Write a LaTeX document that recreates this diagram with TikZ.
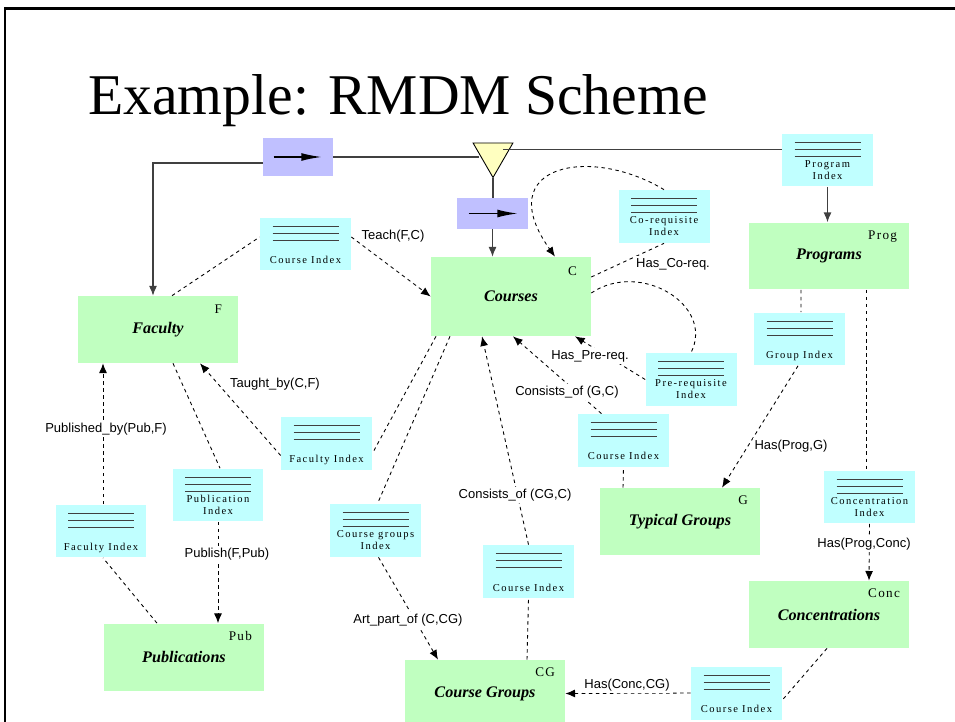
\documentclass[tikz,border=0pt]{standalone}
\usepackage{fontspec}
\setmainfont{Liberation Serif}
\setsansfont{Liberation Sans}
\newfontfamily\idxfont[LetterSpace=14]{Liberation Serif}
\newfontfamily\codefont[LetterSpace=10]{Liberation Serif}
\usetikzlibrary{arrows.meta, shapes.geometric}
\definecolor{entgreen}{RGB}{192,255,192}
\definecolor{idxcyan}{RGB}{192,255,255}
\definecolor{ptrblue}{RGB}{192,192,255}
\definecolor{triyellow}{RGB}{255,255,192}
% index box: name, position, text
\newcommand{\idxbox}[3]{%
    \node[index] (#1) at (#2) {};
    \foreach \dy in {9,16,23}{
        \draw[idxline] ([shift={(-33,\dy)}]#1.north) -- ([shift={(33,\dy)}]#1.north);
    }
    \node[idxtext, anchor=south] (#1-txt) at ([shift={(0,-7)}]#1.south) {#3};
}

\begin{document}
\begin{tikzpicture}[
    x=0.02cm, y=-0.02cm,
    % GLOBAL CFG
    >={Latex[length=5.5pt,width=4.5pt]},
    % Styles
    title/.style={% For slide title
        font=\fontsize{32.8}{38}\selectfont,
        inner sep=0pt,
    },
    entity/.style={% For relations (green boxes)
        rectangle,
        fill=entgreen,
        minimum width=3.2cm,
        minimum height=1.34cm,
        inner sep=0pt,
        font=\fontsize{9.2}{11}\selectfont\bfseries\itshape,
    },
    entcode/.style={% For short names of relations
        anchor=north east,
        inner sep=0pt,
        font=\codefont\fontsize{7.5}{9}\selectfont,
    },
    index/.style={% For index boxes
        rectangle,
        fill=idxcyan,
        minimum width=1.82cm,
        minimum height=1.06cm,
        inner sep=0pt,
    },
    idxtext/.style={
        inner sep=0pt,
        text depth=0pt,
        font=\idxfont\fontsize{6}{7}\selectfont,
    },
    idxline/.style={
        line width=0.6pt,
        draw=black!75,
    },
    ptrbox/.style={% For pointer boxes
        rectangle,
        fill=ptrblue,
        minimum width=1.4cm,
        minimum height=0.76cm,
        inner sep=0pt,
    },
    ptrarrow/.style={
        line width=1.1pt,
        -{Latex[length=12pt,width=4.5pt]},
    },
    splitter/.style={% For the yellow triangle
        regular polygon,
        regular polygon sides=3,
        shape border rotate=180,
        minimum size=0.92cm,
        inner sep=0pt,
        fill=triyellow,
        draw=black,
        line width=0.5pt,
    },
    relation/.style={% For connector labels
        font=\sffamily\fontsize{7.4}{9}\selectfont,
        fill=white,
        inner sep=1pt,
    },
    ArrowS/.style={% Solid connectors
        line width=0.6pt,
        draw=black!75,
    },
    ArrowD/.style={% Dashed connectors
        line width=0.5pt,
        dash pattern=on 2pt off 2pt,
    },
    every text node part/.style={
        align=center
    },
    ]
    \useasboundingbox (0,0) rectangle (955,722);

    % Frame and title
    \draw[line width=1.7pt] (5,722) -- (5,9) -- (955,9);
    \node[title, anchor=base west] (title) at (88,115) {Example: RMDM Scheme};

    % Draw relations
    \node[entity] (fac) at (158,329.5) {Faculty};
    \node[entity, minimum height=1.58cm] (crs) at (511,296.5) {Courses};
    \node[entity] (prog) at (829,256) {Programs};
    \node[entity] (typ) at (680,521.5) {Typical Groups};
    \node[entity] (con) at (829,614.5) {Concentrations};
    \node[entity] (pub) at (184,657) {Publications};
    \node[entity] (cg) at (485,693.5) {Course Groups};

    \node[entcode] (fac-c) at ([shift={(-16,9)}]fac.north east) {F};
    \node[entcode] (crs-c) at ([shift={(-14,10)}]crs.north east) {C};
    \node[entcode] (prog-c) at ([shift={(-12,8)}]prog.north east) {Prog};
    \node[entcode] (typ-c) at ([shift={(-12,8)}]typ.north east) {G};
    \node[entcode] (con-c) at ([shift={(-9,8)}]con.north east) {Conc};
    \node[entcode] (pub-c) at ([shift={(-12,8)}]pub.north east) {Pub};
    \node[entcode] (cg-c) at ([shift={(-10,8)}]cg.north east) {CG};

    % Draw indexes
    \idxbox{ci1}{305.5,244}{Course Index}
    \idxbox{pidx}{827.5,160}{Program\\Index}
    \idxbox{coidx}{664,216.5}{Co-requisite\\Index}
    \idxbox{fi1}{326.5,443.5}{Faculty Index}
    \idxbox{preidx}{691,379.5}{Pre-requisite\\Index}
    \idxbox{gidx}{799.5,339}{Group Index}
    \idxbox{ci2}{623.5,440.5}{Course Index}
    \idxbox{conidx}{869.5,497}{Concentration\\Index}
    \idxbox{pubidx}{218,495}{Publication\\Index}
    \idxbox{fi2}{101,531}{Faculty Index}
    \idxbox{cgidx}{375.5,530.5}{Course groups\\Index}
    \idxbox{ci3}{528.5,571.5}{Course Index}
    \idxbox{ci4}{736.5,693}{Course Index}

    % Draw pointers and splitter
    \node[ptrbox] (pb1) at (298,157) {};
    \node[ptrbox, minimum width=1.42cm, minimum height=0.62cm] (pb2) at (492.5,213.5) {};
    \draw[ptrarrow] ([shift={(11,0)}]pb1.west) -- ([shift={(-11,0)}]pb1.east);
    \draw[ptrarrow] ([shift={(12,0)}]pb2.west) -- ([shift={(-10,0)}]pb2.east);
    \node[splitter] (tri) at (493,154.5) {};

    % Solid connectors
    \draw[ArrowS] (pb1.east) -- (pb1.east -| tri.west);
    \draw[ArrowS] ([shift={(-4,-5)}]tri.east) -- ([shift={(0,-5)}]tri.east -| pidx.west);
    \draw[->,ArrowS] ([shift={(0,6)}]pb1.west) -| ([shift={(-5,0)}]fac.north);
    \draw[ArrowS] (tri.corner 1) -- (tri.corner 1 |- pb2.north);
    \draw[->,ArrowS] (pb2.south) -- (pb2.south |- crs.north);
    \draw[->,ArrowS] (pidx.south) -- (pidx.south |- prog.north);

    % Teach
    \draw[ArrowD] ([shift={(14,0)}]fac.north) -- ([shift={(0,-7)}]ci1.west);
    \draw[->,ArrowD] ([shift={(0,-7)}]ci1.east) -- (crs.west);

    % Co-requisite
    \draw[ArrowD] ([shift={(0,-19.5)}]crs.east) -- (coidx.south);
    \draw[->,ArrowD] (coidx.north) .. controls (590,145) and (490,165) .. ([shift={(44,0)}]crs.north);

    % Pre-requisite
    \draw[ArrowD] ([shift={(0,-3.5)}]crs.east) .. controls (640,260) and (715,305) .. (preidx.north);
    \draw[->,ArrowD] (preidx.west) -- ([shift={(64,0)}]crs.south);

    % Taught_by
    \draw[ArrowD] ([shift={(-75,0)}]crs.south) -- ([shift={(0,10)}]fi1.east);
    \draw[->,ArrowD] ([shift={(0,12)}]fi1.west) -- ([shift={(42,0)}]fac.south);

    % Art_part_of
    \draw[ArrowD] ([shift={(-61,0)}]crs.south) -- ([shift={(2,0)}]cgidx.north);
    \draw[->,ArrowD] ([shift={(3,0)}]cgidx.south) -- ([shift={(-47,0)}]cg.north);

    % Consists_of (CG,C)
    \draw[ArrowD] ([shift={(42,0)}]cg.north) -- (ci3.south);
    \draw[->,ArrowD] (ci3.north) -- ([shift={(-29,0)}]crs.south);

    % Consists_of (G,C)
    \draw[ArrowD] ([shift={(-57,0)}]typ.north) -- (ci2.south);
    \draw[->,ArrowD] ([shift={(-22,0)}]ci2.north) -- ([shift={(2,0)}]crs.south);

    % Has(Prog,G)
    \draw[ArrowD] ([shift={(-28,0)}]prog.south) -- ([shift={(1.5,0)}]gidx.north);
    \draw[->,ArrowD] ([shift={(-1.5,0)}]gidx.south) -- ([shift={(42,0)}]typ.north);

    % Has(Prog,Conc)
    \draw[ArrowD] ([shift={(37,0)}]prog.south) -- ([shift={(-3.5,0)}]conidx.north);
    \draw[->,ArrowD] (conidx.south) -- ([shift={(40,0)}]con.north);

    % Has(Conc,CG)
    \draw[ArrowD] ([shift={(-2,0)}]con.south) -- ([shift={(0,7)}]ci4.east);
    \draw[->,ArrowD] (ci4.west) -- (cg.east);

    % Publish
    \draw[ArrowD] ([shift={(15,0)}]fac.south) -- ([shift={(2,0)}]pubidx.north);
    \draw[->,ArrowD] (pubidx.south) -- ([shift={(34,0)}]pub.north);

    % Published_by
    \draw[ArrowD] ([shift={(-27,0)}]pub.north) -- ([shift={(2,0)}]fi2.south);
    \draw[->,ArrowD] ([shift={(2,0)}]fi2.north) -- ([shift={(-55,0)}]fac.south);

    % Labels
    \node[relation] (teach) at (393,236) {Teach(F,C)};
    \node[relation] (coreq) at (673,264) {Has\_Co-req.};
    \node[relation] (prereq) at (590,356) {Has\_Pre-req.};
    \node[relation] (taught) at (275,384) {Taught\_by(C,F)};
    \node[relation] (artpart) at (408,620) {Art\_part\_of (C,CG)};
    \node[relation] (cgc) at (515,495) {Consists\_of (CG,C)};
    \node[relation] (gc) at (567,392) {Consists\_of (G,C)};
    \node[relation] (hasg) at (791,446) {Has(Prog,G)};
    \node[relation] (hasconc) at (864,544) {Has(Prog,Conc)};
    \node[relation] (hascg) at (627,685) {Has(Conc,CG)};
    \node[relation] (publish) at (227,554) {Publish(F,Pub)};
    \node[relation] (pubby) at (106,429) {Published\_by(Pub,F)};

\end{tikzpicture}
\end{document}
